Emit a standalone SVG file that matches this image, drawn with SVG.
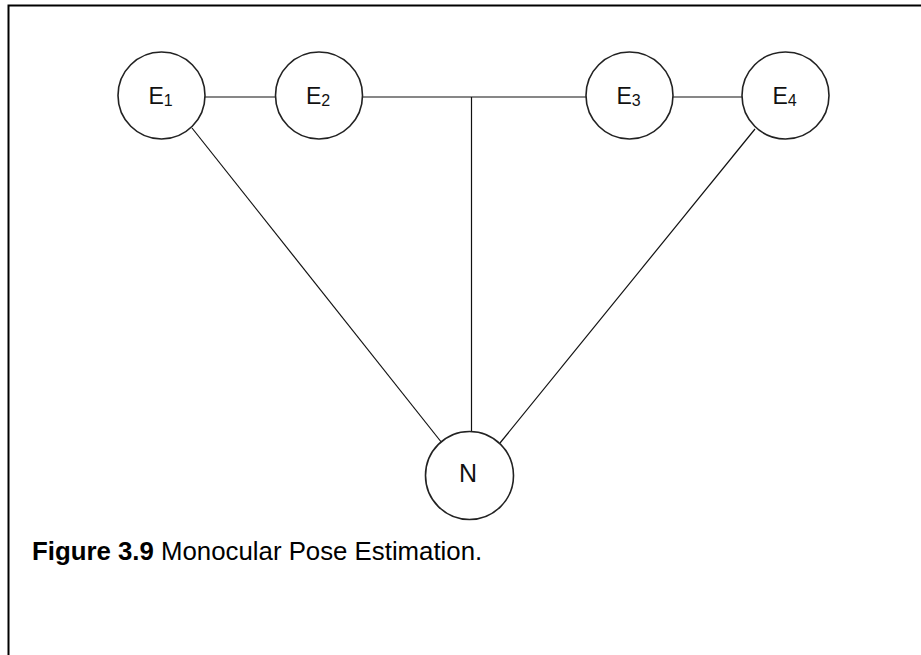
<svg xmlns="http://www.w3.org/2000/svg" width="921" height="655" viewBox="0 0 921 655">
  <style>
    .node circle { fill: #ffffff; stroke: #222222; stroke-width: 1.6; }
    .node text { font-family: "Liberation Sans", Arial, sans-serif; font-size: 23px; fill: #111111; text-anchor: middle; }
    .node tspan.sub { font-size: 16px; }
    .node text.big { font-size: 25px; }
    .edges line { stroke: #111111; stroke-width: 1.2; }
    .frame { stroke: #000000; stroke-width: 2; fill: none; }
    .caption { font-family: "Liberation Sans", Arial, sans-serif; font-size: 25.8px; fill: #000000; }
  </style>
  <rect width="921" height="655" fill="#ffffff"/>
  <!-- page frame: top and left rules -->
  <polyline class="frame" points="921,5.5 8.5,5.5 8.5,655"/>

  <g class="edges">
    <line x1="205" y1="97" x2="276" y2="97"/>
    <line x1="362" y1="97" x2="587" y2="97"/>
    <line x1="672" y1="97" x2="742" y2="97"/>
    <line x1="471.5" y1="97" x2="471.5" y2="431.5"/>
    <line x1="192" y1="128" x2="442" y2="443"/>
    <line x1="755" y1="129" x2="500" y2="443"/>
  </g>

  <g id="E1" class="node">
    <circle cx="161.5" cy="95.5" r="43.5"/>
    <text x="160.5" y="104">E<tspan class="sub" dy="2">1</tspan></text>
  </g>
  <g id="E2" class="node">
    <circle cx="319" cy="95.5" r="43.5"/>
    <text x="318" y="104">E<tspan class="sub" dy="2">2</tspan></text>
  </g>
  <g id="E3" class="node">
    <circle cx="629.5" cy="95.5" r="43.5"/>
    <text x="628.5" y="104">E<tspan class="sub" dy="2">3</tspan></text>
  </g>
  <g id="E4" class="node">
    <circle cx="785.5" cy="95.5" r="43.5"/>
    <text x="784.5" y="104">E<tspan class="sub" dy="2">4</tspan></text>
  </g>
  <g id="N" class="node">
    <circle cx="469.5" cy="475.5" r="44"/>
    <text class="big" x="468" y="482">N</text>
  </g>

  <text class="caption" x="32" y="560"><tspan font-weight="bold">Figure 3.9</tspan> Monocular Pose Estimation.</text>
</svg>
